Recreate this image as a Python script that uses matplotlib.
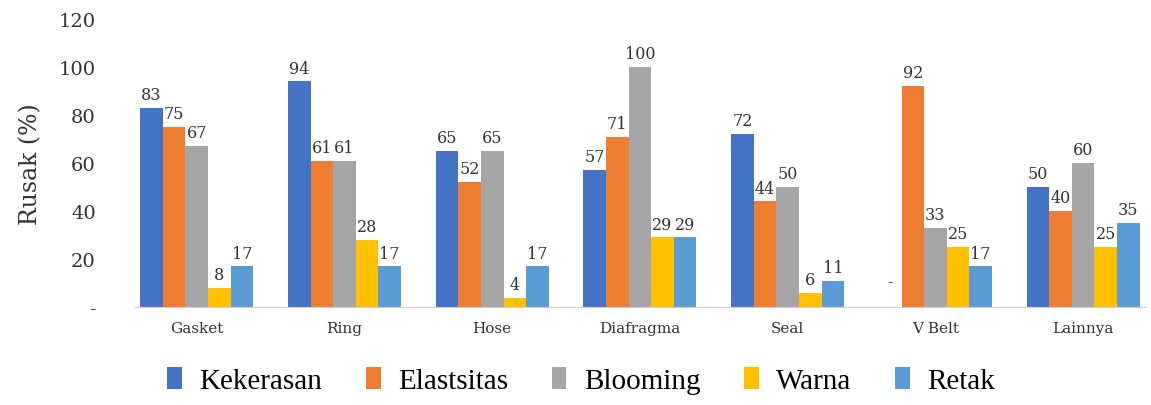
import numpy as np
import matplotlib.pyplot as plt

# Data
categories = ['Gasket', 'Ring', 'Hose', 'Diafragma', 'Seal', 'V Belt', 'Lainnya']
series_names = ['Kekerasan', 'Elastsitas', 'Blooming', 'Warna', 'Retak']
kekerasan = [83, 94, 65, 57, 72, 0, 50]
elastsitas = [75, 61, 52, 71, 44, 92, 40]
blooming = [67, 61, 65, 100, 50, 33, 60]
warna = [8, 28, 4, 29, 6, 25, 25]
retak = [17, 17, 17, 29, 11, 17, 35]
colors = ['#4472C4', '#ED7D31', '#A5A5A5', '#FFC000', '#5B9BD5']


def main():
    plt.rcParams['font.family'] = ['DejaVu Serif']
    fig = plt.figure(figsize=(11.51, 4.06), dpi=100)
    ax = fig.add_axes([0.117, 0.241, 0.878, 0.710])

    x = np.arange(len(categories))
    width = 0.153
    all_series = [kekerasan, elastsitas, blooming, warna, retak]
    for i, (name, vals, c) in enumerate(zip(series_names, all_series, colors)):
        pos = x + (i - 2) * width
        ax.bar(pos, vals, width, color=c, label=name)
        for p, v in zip(pos, vals):
            txt = '-' if v == 0 else str(v)
            yy = v + 2 if v > 0 else 7
            ax.text(p, yy, txt, ha='center', va='bottom', fontsize=11.5, color='#333333')

    ax.set_xlim(-0.42, 6.42)
    ax.set_ylim(0, 120)
    ax.set_yticks(range(0, 121, 20))
    ax.set_yticklabels(['-'] + [str(v) for v in range(20, 121, 20)], fontsize=14, color='#333333')
    ax.set_xticks(x)
    ax.set_xticklabels(categories, fontsize=11, color='#333333')
    ax.tick_params(length=0, pad=10)
    ax.tick_params(axis='y', pad=28)
    for s in ['top', 'right', 'left']:
        ax.spines[s].set_visible(False)
    ax.spines['bottom'].set_color('#D0D0D0')
    ax.set_ylabel('Rusak (%)', fontsize=17, color='#333333', labelpad=12)

    handles, labels = ax.get_legend_handles_labels()
    fig.legend(handles, labels, loc='center', bbox_to_anchor=(0.505, 0.06), ncol=5,
               frameon=False, handlelength=0.5, handleheight=0.8, handletextpad=0.6,
               columnspacing=1.5, prop={'family': 'Liberation Serif', 'size': 21})

    fig.savefig('out.png', dpi=100)


if __name__ == "__main__":
    main()
